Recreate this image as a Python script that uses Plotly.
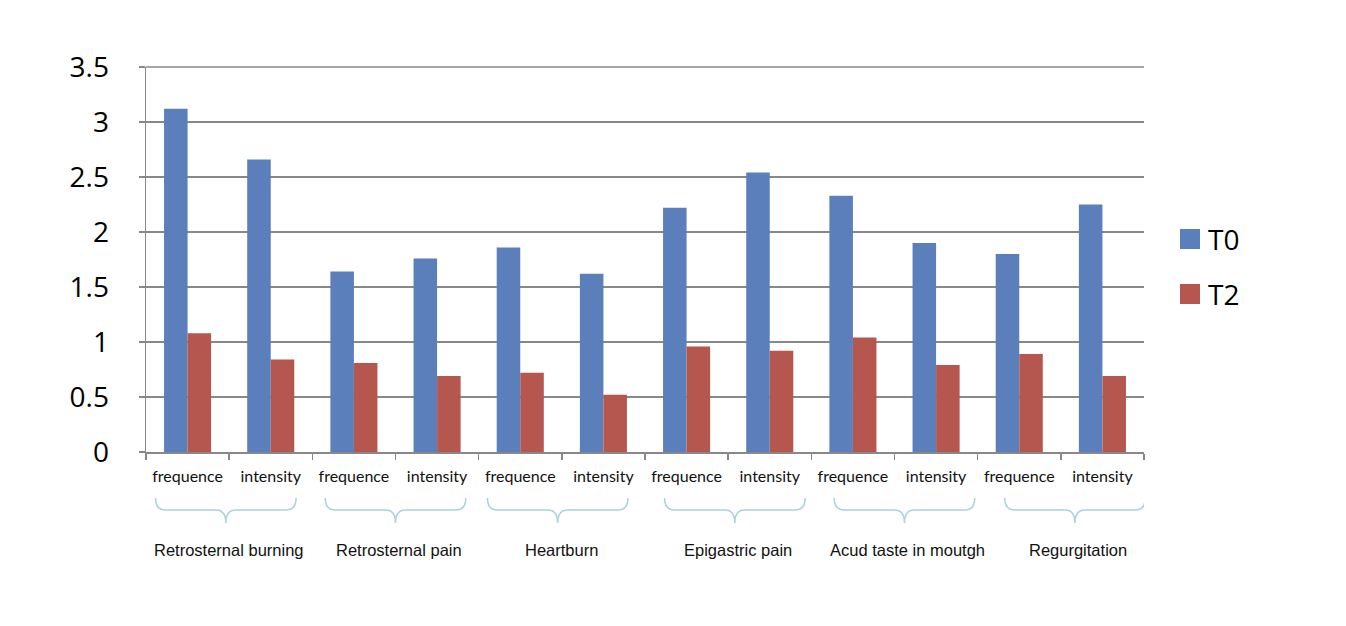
import plotly.graph_objects as go

# ---- data ----
subcategories = ["frequence", "intensity"] * 6
groups = ["Retrosternal burning", "Retrosternal pain", "Heartburn",
          "Epigastric pain", "Acud taste in moutgh", "Regurgitation"]
series_names = ["T0", "T2"]
t0_values = [3.12, 2.66, 1.64, 1.76, 1.86, 1.62, 2.22, 2.54, 2.33, 1.90, 1.80, 2.25]
t2_values = [1.08, 0.84, 0.81, 0.69, 0.72, 0.52, 0.96, 0.92, 1.04, 0.79, 0.89, 0.69]
y_ticks = [0, 0.5, 1, 1.5, 2, 2.5, 3, 3.5]

# ---- styling ----
BLUE = "#5A7FBB"
RED = "#B5574F"
GRID = "#888888"
BRACE = "#A9D4DA"
W, H = 1346, 626
L, R, T, B = 146, 202, 67, 174
plot_w = W - L - R
plot_h = H - T - B

x_idx = list(range(len(subcategories)))

fig = go.Figure()
fig.add_trace(go.Bar(x=x_idx, y=t0_values, name=series_names[0],
                     marker=dict(color=BLUE, line=dict(width=0)), showlegend=False))
fig.add_trace(go.Bar(x=x_idx, y=t2_values, name=series_names[1],
                     marker=dict(color=RED, line=dict(width=0)), showlegend=False))


def py(p):  # pixel y -> paper y
    return (H - B - p) / plot_h


def px(p):  # pixel x -> paper x
    return (p - L) / plot_w


shapes = []
annotations = []

# top gridline (plotly omits the gridline at the range edge); paper ref so it is not clipped
shapes.append(dict(type="line", xref="paper", yref="paper", x0=0, x1=1,
                   y0=1, y1=1, line=dict(color=GRID, width=1.5), layer="below"))

# group braces + labels
nudges = [-0.04, 0.0, -0.05, 0.08, 0.12, 0.17]
brace_top, brace_mid, brace_tip = py(498), py(510), py(523)
for g, name in enumerate(groups):
    c = 2 * g + 0.5 + nudges[g]
    x0 = c - 0.845
    x1 = c + 0.845
    d = 0.12
    path = (f"M {x0},{brace_top} Q {x0},{brace_mid} {x0 + d},{brace_mid} "
            f"L {c - d},{brace_mid} Q {c},{brace_mid} {c},{brace_tip} "
            f"Q {c},{brace_mid} {c + d},{brace_mid} "
            f"L {x1 - d},{brace_mid} Q {x1},{brace_mid} {x1},{brace_top}")
    shapes.append(dict(type="path", xref="x", yref="paper", path=path,
                       line=dict(color=BRACE, width=1.6)))
    annotations.append(dict(x=c + 0.04, y=py(550), xref="x", yref="paper",
                            text=name, showarrow=False, xanchor="center",
                            yanchor="middle",
                            font=dict(family="Liberation Sans, Arial", size=16.5,
                                      color="#111111")))

# manual legend
colors = [BLUE, RED]
legend_rows = [239, 294]
for name, col, yc in zip(series_names, colors, legend_rows):
    shapes.append(dict(type="rect", xref="paper", yref="paper",
                       x0=px(1180), x1=px(1200), y0=py(yc - 10), y1=py(yc + 10),
                       fillcolor=col, line=dict(width=0)))
    annotations.append(dict(x=px(1206), y=py(yc), xref="paper", yref="paper",
                            text=name, showarrow=False, xanchor="left",
                            yanchor="middle",
                            font=dict(family="Open Sans, Lato", size=28,
                                      color="#000000")))

fig.update_layout(
    width=W, height=H,
    margin=dict(l=L, r=R, t=T, b=B, pad=0),
    plot_bgcolor="white", paper_bgcolor="white",
    barmode="group", bargap=0.434, bargroupgap=0,
    showlegend=False,
    shapes=shapes, annotations=annotations,
    xaxis=dict(
        range=[-0.5, len(subcategories) - 0.5],
        tickmode="array", tickvals=x_idx, ticktext=subcategories,
        ticks="outside", ticklen=6, tickcolor="rgba(0,0,0,0)",
        ticklabelstandoff=3,
        tickfont=dict(family="Lato, Open Sans", size=16, color="#111111"),
        showgrid=False, zeroline=False,
        showline=True, linecolor=GRID, linewidth=1.5,
        minor=dict(tickmode="array",
                   tickvals=[i - 0.5 for i in range(len(subcategories) + 1)],
                   ticks="outside", ticklen=6, tickcolor=GRID, tickwidth=1.5,
                   showgrid=False),
        fixedrange=True,
    ),
    yaxis=dict(
        range=[0, 3.5], tickmode="array", tickvals=y_ticks,
        ticktext=[f"{v:g}" for v in y_ticks],
        ticks="outside", ticklen=6, tickcolor=GRID, tickwidth=1.5,
        ticklabelstandoff=24,
        tickfont=dict(family="Open Sans, Lato", size=28, color="#000000"),
        showgrid=True, gridcolor=GRID, gridwidth=1.5,
        zeroline=False,
        showline=True, linecolor=GRID, linewidth=1.5,
        fixedrange=True,
    ),
)

fig.write_html("out.html",
               config={"displayModeBar": False, "staticPlot": True},
               post_script="document.body.style.margin='0px';document.body.style.overflow='hidden';")
